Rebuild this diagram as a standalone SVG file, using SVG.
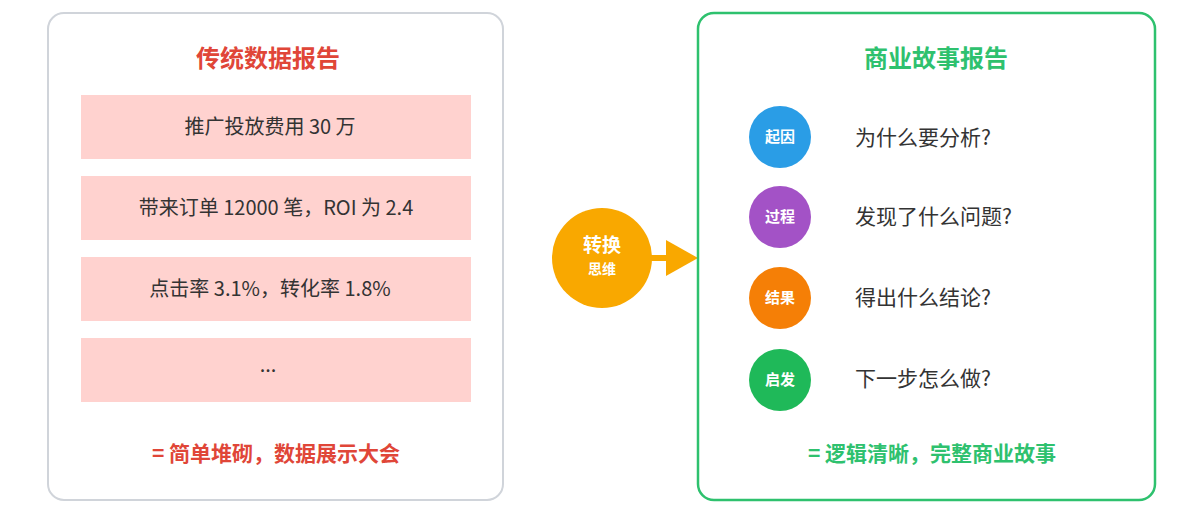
<svg xmlns="http://www.w3.org/2000/svg" width="1200" height="513" viewBox="0 0 1200 513">
<style>
text{font-family:"Noto Sans CJK SC","Noto Sans",sans-serif}
.box{fill:#ffd2cf}
.bt{font-size:20px;fill:#333;text-anchor:middle}
.q{font-size:21px;fill:#333}
.ct{font-size:15px;font-weight:bold;fill:#fff;text-anchor:middle}
</style>
<rect width="1200" height="513" fill="#fff"/>
<g id="left">
<rect x="48" y="13" width="455" height="487" rx="16" fill="#fff" stroke="#d0d4da" stroke-width="2"/>
<text x="268" y="67" font-size="24" font-weight="bold" fill="#e04638" text-anchor="middle">传统数据报告</text>
<rect class="box" x="81" y="95" width="390" height="64"/>
<text class="bt" x="270" y="134">推广投放费用 30 万</text>
<rect class="box" x="81" y="176" width="390" height="64"/>
<text class="bt" x="276" y="215">带来订单 12000 笔，ROI 为 2.4</text>
<rect class="box" x="81" y="257" width="390" height="64"/>
<text class="bt" x="270" y="296">点击率 3.1%，转化率 1.8%</text>
<rect class="box" x="81" y="338" width="390" height="64"/>
<text class="bt" x="268" y="372">...</text>
<text x="276" y="461" font-size="21" font-weight="bold" fill="#e04638" text-anchor="middle">= 简单堆砌，数据展示大会</text>
</g>
<g id="connectors">
<line x1="650" y1="258" x2="672" y2="258" stroke="#f9a800" stroke-width="6"/>
<polygon points="666,240 698,258 666,276" fill="#f9a800"/>
</g>
<g id="convert">
<circle cx="602" cy="258" r="50" fill="#f9a800"/>
<text x="602" y="252" font-size="19" font-weight="bold" fill="#fff" text-anchor="middle">转换</text>
<text x="602" y="274" font-size="14" font-weight="bold" fill="#fff" text-anchor="middle">思维</text>
</g>
<g id="right">
<rect x="698" y="13" width="457" height="487" rx="16" fill="#fff" stroke="#2ec16e" stroke-width="2.5"/>
<text x="936" y="67" font-size="24" font-weight="bold" fill="#2ec16e" text-anchor="middle">商业故事报告</text>
<circle cx="780" cy="137" r="31" fill="#2a9de6"/><text class="ct" x="780" y="142">起因</text>
<text class="q" x="855" y="145">为什么要分析?</text>
<circle cx="780" cy="217" r="31" fill="#a352c6"/><text class="ct" x="780" y="222">过程</text>
<text class="q" x="855" y="224">发现了什么问题?</text>
<circle cx="780" cy="298" r="31" fill="#f57f06"/><text class="ct" x="780" y="303">结果</text>
<text class="q" x="855" y="305">得出什么结论?</text>
<circle cx="780" cy="380" r="31" fill="#1fb959"/><text class="ct" x="780" y="385">启发</text>
<text class="q" x="855" y="386">下一步怎么做?</text>
<text x="932" y="461" font-size="21" font-weight="bold" fill="#2ec16e" text-anchor="middle">= 逻辑清晰，完整商业故事</text>
</g>
</svg>
